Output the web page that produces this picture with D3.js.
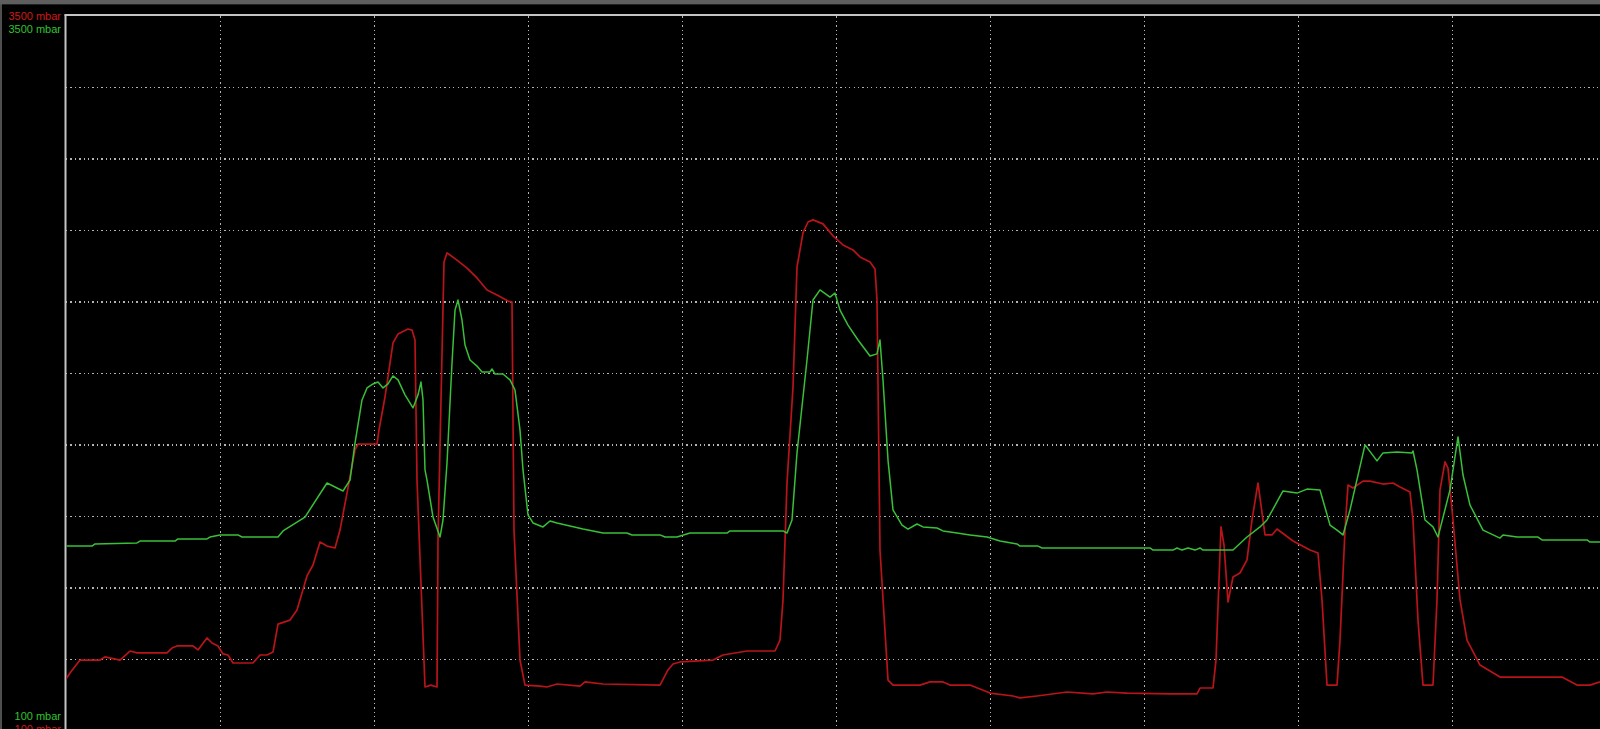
<!DOCTYPE html>
<html>
<head>
<meta charset="utf-8">
<script src="https://cdn.jsdelivr.net/npm/d3@7"></script>
<style>
  html, body { margin: 0; padding: 0; background: #000; overflow: hidden; }
  svg { display: block; }
</style>
</head>
<body>
<svg id="chart" width="1600" height="729"></svg>
<script>
// ---- data (time in s, pressure in mbar) ----
const redTime = [0,0.4,1.4,3.4,3.9,5.4,6.4,7.1,10.1,10.6,11.1,12.7,13.2,14.1,14.6,15.2,15.7,16.2,16.7,18.7,19.4,20.1,20.7,21.2,22.4,23.1,24.1,24.7,25.4,26.1,26.9,27.4,28.1,28.9,29.2,31.1,31.3,31.9,32.7,33.2,34.2,34.6,34.9,35.1,35.9,36.5,37.1,37.2,37.5,37.8,38.1,38.4,39.1,40.1,41.1,42.1,43.1,44.2,44.6,44.8,45.4,45.9,47.4,48.1,49.1,51.4,51.9,53.7,59.4,60.2,60.7,61.4,64.7,65.7,68.1,70.9,71.4,71.7,72.1,72.7,73.1,73.7,74.2,74.7,75.7,76.7,77.7,78.7,79.4,80.4,80.9,81.1,81.4,82.2,82.7,85.4,86.4,87.7,88.4,90.4,92.4,94.7,95.4,97.1,100.1,102.7,104.1,106.1,110.4,113.1,113.4,114.7,115.0,115.5,115.8,116.2,116.7,117.4,118.1,118.6,119.2,119.9,120.6,121.1,122.7,124.4,125.2,125.6,126.1,127.1,127.4,127.9,128.2,128.7,129.7,130.4,131.7,132.7,133.4,134.4,134.7,135.2,135.7,136.7,137.1,137.4,137.9,138.2,138.7,139.4,140.1,141.4,143.4,149.6,151.1,152.4,153.4];
const redValues = [345,373,435,435,450,435,478,469,469,492,502,502,483,540,516,502,464,459,421,421,459,459,473,606,625,673,835,887,996,977,968,1053,1229,1434,1462,1462,1529,1686,1943,1985,2009,2004,1957,1291,307,316,307,1006,1672,2328,2371,2361,2337,2299,2252,2195,2171,2142,2137,1053,435,316,311,307,321,311,331,321,316,388,416,426,435,459,478,478,530,721,1277,1733,2304,2466,2518,2528,2509,2452,2409,2385,2352,2328,2295,2147,958,340,316,316,331,331,316,316,278,264,255,264,283,274,283,278,274,274,302,302,435,1068,982,711,830,849,911,1101,1277,1030,1030,1058,1001,958,944,721,316,316,530,1053,1267,1253,1286,1286,1272,1277,1258,1234,1101,625,316,316,721,1244,1377,1348,1101,721,530,411,354,354,316,316,331];

const greenTime = [0,2.6,2.9,7.1,7.4,10.9,11.2,14.1,14.4,15.4,17.2,17.6,21.2,21.7,23.9,26.1,27.7,28.4,28.9,29.6,30.1,30.7,31.2,31.7,32.2,32.7,33.2,33.9,34.7,35.2,35.5,35.7,35.9,36.1,36.7,37.4,37.7,38.1,38.6,38.9,39.2,39.6,39.9,40.4,41.1,41.6,42.4,42.6,42.9,43.7,44.4,44.9,45.4,45.7,46.2,46.7,47.7,48.4,49.1,51.7,53.7,56.1,56.6,59.4,59.9,61.1,62.4,66.1,66.4,71.7,72.1,72.6,73.1,74.1,74.7,75.4,76.4,76.9,77.4,78.2,79.2,80.4,81.1,81.4,81.7,82.2,82.7,83.6,84.2,85.1,85.7,87.1,87.7,89.1,90.4,92.1,93.4,95.1,95.4,97.2,97.6,108.4,108.7,110.7,111.1,111.6,112.2,112.9,113.4,113.7,116.7,118.1,119.4,120.1,121.7,123.1,124.1,125.4,126.4,127.1,127.7,128.4,129.9,131.1,131.7,133.1,134.6,134.7,135.1,135.9,136.7,137.2,138.4,139.2,139.7,140.4,141.7,143.4,143.7,145.1,147.2,147.6,152.1,152.4,153.4];
const greenValues = [977,977,987,992,1001,1001,1011,1011,1020,1030,1030,1020,1020,1049,1115,1277,1239,1291,1467,1672,1729,1748,1757,1729,1748,1786,1767,1696,1634,1696,1757,1672,1339,1291,1115,1020,1101,1372,1847,2099,2147,2052,1933,1862,1833,1805,1805,1819,1795,1795,1767,1719,1529,1339,1125,1087,1068,1096,1087,1058,1039,1039,1030,1030,1020,1020,1039,1039,1049,1049,1039,1101,1420,1862,2147,2195,2161,2180,2099,2028,1957,1881,1891,1957,1767,1386,1149,1077,1058,1082,1068,1063,1049,1039,1030,1020,1001,987,977,977,968,968,958,958,968,958,968,958,968,958,958,1020,1068,1101,1239,1229,1248,1244,1077,1053,1030,1149,1458,1382,1420,1424,1420,1429,1339,1101,1068,1020,1244,1496,1315,1172,1053,1015,1030,1020,1020,1006,1006,996,996];

const timeGrid = [15.4,30.8,46.2,61.6,77,92.4,107.8,123.2,138.6];
const pressureGrid = [440,780,1120,1460,1800,2140,2480,2820,3160];
const topLabels = ["3500 mbar","3500 mbar"];
const bottomLabels = ["100 mbar","100 mbar"];
const seriesColors = ["#b8141a","#38c038"];

// ---- layout ----
const svg = d3.select("#chart");
const W = 1600, H = 729;
const mLeft = 66, mTop = 15.5, mRight = 1606, mBottom = 730.5;

const x = d3.scaleLinear().domain([0,154]).range([mLeft, mRight]);
const y = d3.scaleLinear().domain([100,3500]).range([mBottom, mTop]);

svg.append("rect").attr("width",W).attr("height",H).attr("fill","#000");

// top window strip
svg.append("rect").attr("x",0).attr("y",0).attr("width",W).attr("height",4).attr("fill","#5e5e5e");
svg.append("line").attr("x1",0).attr("x2",W).attr("y1",4.5).attr("y2",4.5).attr("stroke","#222").attr("stroke-width",1);
// left outer edge
svg.append("line").attr("x1",1).attr("x2",1).attr("y1",4).attr("y2",H).attr("stroke","#6a6a6a").attr("stroke-width",1.5);

// grid via axes
const gGrid = svg.append("g");
const xAxis = d3.axisBottom(x).tickValues(timeGrid).tickSize(-(mBottom - mTop)).tickFormat("");
const yAxis = d3.axisLeft(y).tickValues(pressureGrid).tickSize(-(mRight - mLeft)).tickFormat("");
gGrid.append("g").attr("transform",`translate(0,${mBottom})`).call(xAxis);
gGrid.append("g").attr("transform",`translate(${mLeft},0)`).call(yAxis);
gGrid.selectAll(".domain").remove();
gGrid.selectAll(".tick line")
  .attr("stroke","#b4b4b4")
  .attr("stroke-width",1.2)
  .attr("stroke-dasharray","1.3,3.1")
  .attr("shape-rendering","crispEdges");

// plot border
svg.append("line").attr("x1",mLeft-0.5).attr("x2",mLeft-0.5).attr("y1",mTop-1).attr("y2",H)
  .attr("stroke","#c4c4c4").attr("stroke-width",2);
svg.append("line").attr("x1",mLeft-1.5).attr("x2",W).attr("y1",mTop-0.5).attr("y2",mTop-0.5)
  .attr("stroke","#c4c4c4").attr("stroke-width",2);

// clip
svg.append("clipPath").attr("id","clip").append("rect")
  .attr("x",mLeft+0.5).attr("y",mTop+0.5).attr("width",mRight-mLeft).attr("height",mBottom-mTop);

const line = d3.line().x(d => x(d[0])).y(d => y(d[1]));
const redData = redTime.map((t,i) => [t, redValues[i]]);
const greenData = greenTime.map((t,i) => [t, greenValues[i]]);

const gLines = svg.append("g").attr("clip-path","url(#clip)");
gLines.append("path").datum(redData).attr("d",line)
  .attr("fill","none").attr("stroke",seriesColors[0]).attr("stroke-width",1.7).attr("stroke-linejoin","round");
gLines.append("path").datum(greenData).attr("d",line)
  .attr("fill","none").attr("stroke",seriesColors[1]).attr("stroke-width",1.5).attr("stroke-linejoin","round");

// scale labels
const font = "'Liberation Sans', Arial, sans-serif";
svg.append("text").attr("x",61).attr("y",20).attr("text-anchor","end")
  .attr("font-family",font).attr("font-size",11).attr("fill","#d01818").text(topLabels[0]);
svg.append("text").attr("x",61).attr("y",32.5).attr("text-anchor","end")
  .attr("font-family",font).attr("font-size",11).attr("fill","#2fc42f").text(topLabels[1]);
svg.append("text").attr("x",61).attr("y",720).attr("text-anchor","end")
  .attr("font-family",font).attr("font-size",11).attr("fill","#2fc42f").text(bottomLabels[0]);
svg.append("text").attr("x",61).attr("y",733).attr("text-anchor","end")
  .attr("font-family",font).attr("font-size",11).attr("fill","#d01818").text(bottomLabels[1]);
</script>
</body>
</html>
